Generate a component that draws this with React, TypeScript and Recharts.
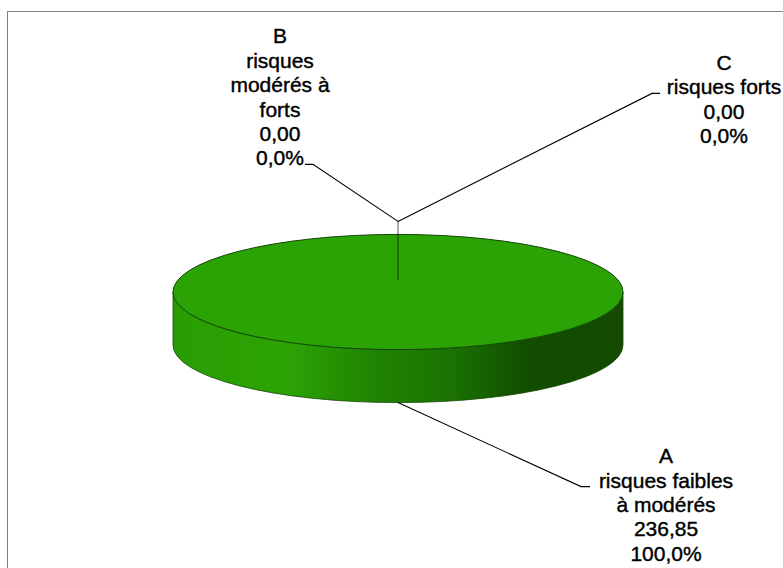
import { Pie, PieChart } from "recharts";

const categories = ["A", "B", "C"];
const descriptions = ["risques faibles à modérés", "risques modérés à forts", "risques forts"];
const values = [236.85, 0, 0];
// how the description text wraps in each label
const descriptionLines = [
  ["risques faibles", "à modérés"],
  ["risques", "modérés à", "forts"],
  ["risques forts"],
];

const data = categories.map((name, i) => ({
  name,
  description: descriptions[i],
  value: values[i],
}));

const W = 783;
const H = 568;
const CX = 398;
const CY = 292;
const RADIUS = 225;
const TILT = 0.256;
const DEPTH = 53;
const LINE_H = 24.4;
const FONT = '"Liberation Sans", Arial, sans-serif';

const fmt = (v: number, d: number) => v.toFixed(d).replace(".", ",");

const rad = (a: number) => (a * Math.PI) / 180;

function Pie3D(props: any) {
  const { cx, cy, outerRadius, startAngle, endAngle } = props;
  const rx = outerRadius;
  const ry = outerRadius * TILT;
  if (Math.abs(endAngle - startAngle) < 0.01) return <g />;
  const full = Math.abs(endAngle - startAngle) >= 359.99;
  const side =
    `M${cx - rx},${cy} A${rx},${ry} 0 0 0 ${cx + rx},${cy} ` +
    `L${cx + rx},${cy + DEPTH} A${rx},${ry} 0 0 1 ${cx - rx},${cy + DEPTH} Z`;
  let top: string;
  if (full) {
    top =
      `M${cx - rx},${cy} A${rx},${ry} 0 1 0 ${cx + rx},${cy} ` +
      `A${rx},${ry} 0 1 0 ${cx - rx},${cy} Z`;
  } else {
    const x1 = cx + rx * Math.cos(rad(startAngle));
    const y1 = cy - ry * Math.sin(rad(startAngle));
    const x2 = cx + rx * Math.cos(rad(endAngle));
    const y2 = cy - ry * Math.sin(rad(endAngle));
    const large = Math.abs(endAngle - startAngle) > 180 ? 1 : 0;
    const sweep = endAngle < startAngle ? 1 : 0;
    top = `M${cx},${cy} L${x1},${y1} A${rx},${ry} 0 ${large} ${sweep} ${x2},${y2} Z`;
  }
  return (
    <g>
      <defs>
        <linearGradient id="sideGrad" x1="0" y1="0" x2="1" y2="0">
          <stop offset="0%" stopColor="#2a9c02" />
          <stop offset="25%" stopColor="#2ca404" />
          <stop offset="45%" stopColor="#1f8302" />
          <stop offset="62%" stopColor="#1b7201" />
          <stop offset="78%" stopColor="#124d00" />
          <stop offset="100%" stopColor="#134a00" />
        </linearGradient>
      </defs>
      <path d={side} fill="url(#sideGrad)" stroke="#1a4a08" strokeWidth={0.8} />
      <path d={top} fill="#2ca304" stroke="#134808" strokeWidth={1} />
    </g>
  );
}

function PieLabel(props: any) {
  const { cx, cy, outerRadius, midAngle, index, value, percent } = props;
  const rx = outerRadius;
  const ry = outerRadius * TILT;
  const entry = data[index];
  const lines = [entry.name, ...descriptionLines[index], fmt(value, 2), fmt(percent * 100, 1) + "%"];
  const px = cx + rx * Math.cos(rad(midAngle));
  const py = cy - ry * Math.sin(rad(midAngle));
  let pts: number[][];
  let textX: number;
  let leaderIdx: number;
  if (index === 0) {
    // front slice: from the bottom of the side wall out to the right
    const sx = px;
    const sy = py + DEPTH;
    pts = [[sx, sy], [sx + 183, sy + 84], [sx + 192, sy + 84]];
    textX = sx + 268;
    leaderIdx = 1;
  } else {
    const inner = [cx, cy - ry * 0.2];
    const knee = [px, py - 13];
    const dir = index === 1 ? -1 : 1;
    const elbow = index === 1 ? [knee[0] - 85, knee[1] - 57] : [knee[0] + 254, knee[1] - 128];
    pts = [inner, knee, elbow, [elbow[0] + dir * 8, elbow[1]]];
    textX = index === 1 ? elbow[0] - 33 : elbow[0] + 72;
    leaderIdx = index === 1 ? lines.length - 1 : 1;
  }
  const last = pts[pts.length - 1];
  const baseY = last[1] + 1 - leaderIdx * LINE_H;
  return (
    <g>
      {index !== 0 && (
        <line x1={pts[0][0]} y1={pts[0][1]} x2={pts[1][0]} y2={pts[1][1]} stroke="#000" strokeOpacity={0.3} strokeWidth={1.2} />
      )}
      <polyline
        points={(index === 0 ? pts : pts.slice(1)).map((p) => p.join(",")).join(" ")}
        fill="none"
        stroke="#000"
        strokeWidth={1.1}
      />
      <text
        textAnchor="middle"
        fontFamily={FONT}
        fontSize={21}
        fill="#000"
        stroke="#000"
        strokeWidth={0.4}
      >
        {lines.map((l, i) => (
          <tspan key={i} x={textX} y={baseY + i * LINE_H}>
            {l}
          </tspan>
        ))}
      </text>
    </g>
  );
}

export default function App() {
  return (
    <div style={{ position: "relative", width: W, height: H, overflow: "hidden", background: "#fff" }}>
      <style>{"body{margin:0;overflow:hidden}"}</style>
      <div
        style={{
          position: "absolute",
          left: 7,
          top: 10.5,
          width: 820,
          height: 620,
          border: "1.5px solid #808080",
        }}
      />
      <div style={{ position: "absolute", left: 0, top: 0 }}>
        <PieChart width={W} height={H} margin={{ top: 0, right: 0, bottom: 0, left: 0 }}>
          <Pie
            data={data}
            dataKey="value"
            nameKey="name"
            cx={CX}
            cy={CY}
            outerRadius={RADIUS}
            startAngle={90}
            endAngle={-270}
            stroke="none"
            shape={Pie3D}
            label={PieLabel}
            labelLine={false}
            isAnimationActive={false}
          />
        </PieChart>
      </div>
    </div>
  );
}
